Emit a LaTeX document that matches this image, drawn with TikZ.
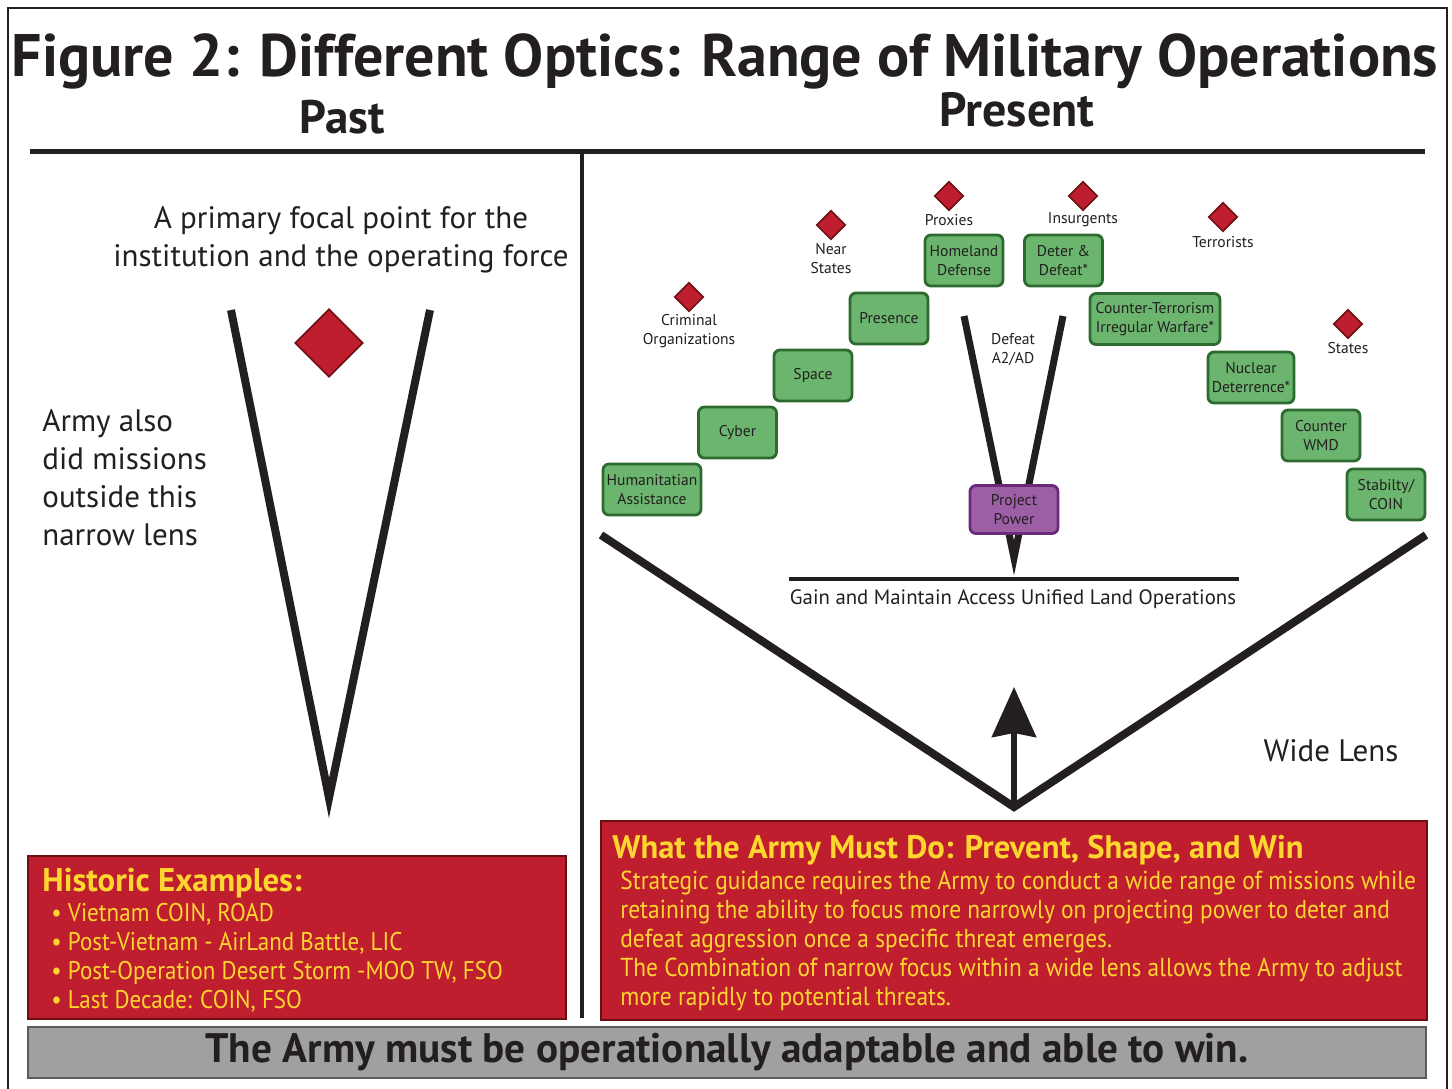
\documentclass[tikz,border=0pt]{standalone}
\usepackage{fontspec}
\setmainfont{PT Sans}
\newfontfamily\narrowfont[FakeStretch=0.9]{PT Sans}
\usetikzlibrary{arrows.meta,shapes.geometric}

\definecolor{armyred}{HTML}{BE1E2D}
\definecolor{armyredline}{HTML}{6D1016}
\definecolor{armygold}{HTML}{FFD530}
\definecolor{missionfill}{HTML}{6BB56E}
\definecolor{missionline}{HTML}{2C6A30}
\definecolor{powerfill}{HTML}{9C5FA6}
\definecolor{powerline}{HTML}{6A2A7A}
\definecolor{bargray}{HTML}{A0A0A0}
\definecolor{barline}{HTML}{5B5B5B}
\definecolor{ink}{HTML}{231F20}

\tikzset{
  mission/.style={rectangle, rounded corners=3pt, draw=missionline, fill=missionfill, line width=1.4pt,
    minimum width=39pt, minimum height=25.5pt, inner sep=1pt, align=center, text=ink,
    font=\fontsize{7.8}{9.5}\selectfont},
  power/.style={mission, draw=powerline, fill=powerfill, minimum width=44pt, minimum height=24pt},
  threat/.style={diamond, aspect=1, draw=armyredline, fill=armyred, line width=0.8pt, minimum size=14.5pt, inner sep=0pt},
  tag/.style={align=center, text=ink, inner sep=0pt, font=\fontsize{7.8}{9.5}\selectfont},
  lens/.style={draw=ink, line width=4pt, line join=miter},
  redbox/.style={rectangle, draw=armyredline, fill=armyred, line width=1pt, inner sep=0pt},
  gold/.style={text=armygold, align=left, inner sep=0pt}
}

\begin{document}
\begin{tikzpicture}[x=0.5pt, y=-0.5pt]
\fill[white] (0,0) rectangle (1452,1088);
\useasboundingbox (0,0) rectangle (1452,1088);
\draw[line width=1pt, ink] (8,1100) -- (8,8) -- (1447,8) -- (1447,1100);

\node (title) at (725,76) [anchor=base, text=ink, inner sep=0pt, font=\bfseries\fontsize{30}{30}\selectfont] {Figure 2: Different Optics: Range of Military Operations};
\node (past) at (342,133) [anchor=base, text=ink, inner sep=0pt, font=\bfseries\fontsize{23.5}{23.5}\selectfont] {Past};
\node (present) at (1017,126) [anchor=base, text=ink, inner sep=0pt, font=\bfseries\fontsize{24}{24}\selectfont] {Present};

\draw[line width=2.5pt, ink] (30,151) -- (1425,151);
\draw[line width=2pt, ink] (582,151) -- (582,1018);

\node (focus) at (341,240) [tag, font=\fontsize{15.5}{19}\selectfont] {A primary focal point for the\\institution and the operating force};
\node (outside) at (42,478) [tag, anchor=west, align=left, font=\fontsize{15.5}{19}\selectfont] {Army also\\did missions\\outside this\\narrow lens};
\draw[lens] (231,310) -- (329,798) -- (430,310);
\node (focal) at (329,343) [threat, minimum size=34pt] {};

\node (hist) at (297,937.5) [redbox, minimum width=269pt, minimum height=81.5pt] {};
\node (histhead) at (42,891) [gold, anchor=base west, font=\bfseries\fontsize{16.4}{16.4}\selectfont] {Historic Examples:};
\node (histlist) at (51,903) [gold, anchor=north west, font=\narrowfont\fontsize{12.8}{14.5}\selectfont] {\textbullet\ Vietnam COIN, ROAD\\\textbullet\ Post-Vietnam - AirLand Battle, LIC\\\textbullet\ Post-Operation Desert Storm -MOO TW, FSO\\\textbullet\ Last Decade: COIN, FSO};

\draw[lens] (601,535) -- (1014,807) -- (1426,535);
\coordinate (lensbase) at (1014,807);
\coordinate (lensaim) at (1014,687);
\draw[ink, line width=3pt, -{Stealth[length=25pt, width=22pt, inset=2pt]}] (lensbase) -- (lensaim);
\node (wide) at (1331,751) [tag, font=\fontsize{15.5}{19}\selectfont] {Wide Lens};

\draw[ink, line width=2pt] (789,579) -- (1239,579);
\node (ulo) at (1013,599) [tag, font=\fontsize{10.4}{12}\selectfont] {Gain and Maintain Access Unified Land Operations};
\draw[lens, line width=3.5pt] (964,316) -- (1014,558) -- (1063,316);
\node (a2ad) at (1013,350) [tag] {Defeat\\A2/AD};
\node (power) at (1014,509.5) [power] {Project\\Power};

\node (human) at (652,489.5) [mission, minimum width=49pt] {Humanitatian\\Assistance};
\node (cyber) at (737.5,432.5) [mission] {Cyber};
\node (space) at (813,375.5) [mission] {Space};
\node (presence) at (889,318.5) [mission] {Presence};
\node (homeland) at (964,260.5) [mission] {Homeland\\Defense};
\node (deter) at (1063.5,260.5) [mission] {Deter \&\\Defeat*};
\node (ct) at (1155,319) [mission, minimum width=65pt] {Counter-Terrorism\\Irregular Warfare*};
\node (nuclear) at (1251,377.5) [mission, minimum width=43pt] {Nuclear\\Deterrence*};
\node (cwmd) at (1321,435.5) [mission] {Counter\\WMD};
\node (coin) at (1386,494.5) [mission] {Stabilty/\\COIN};

\node (crim) at (689,297) [threat] {};
\node (crimtag) at (689,331) [tag] {Criminal\\Organizations};
\node (near) at (831,225) [threat] {};
\node (neartag) at (831,259) [tag] {Near\\States};
\node (proxy) at (949,196) [threat] {};
\node (proxytag) at (949,220) [tag] {Proxies};
\node (insurg) at (1083,196) [threat] {};
\node (insurgtag) at (1083,220) [tag] {Insurgents};
\node (terror) at (1223,217) [threat] {};
\node (terrortag) at (1223,242) [tag] {Terrorists};
\node (states) at (1348,324) [threat] {};
\node (statestag) at (1348,348) [tag] {States};

\node (must) at (1014,920.5) [redbox, minimum width=413pt, minimum height=99.5pt] {};
\node (musthead) at (612,858) [gold, anchor=base west, font=\bfseries\fontsize{16.3}{16.3}\selectfont] {What the Army Must Do: Prevent, Shape, and Win};
\node (mustbody) at (620,871) [gold, anchor=north west, font=\narrowfont\fontsize{13}{14.5}\selectfont] {Strategic guidance requires the Army to conduct a wide range of missions while\\retaining the ability to focus more narrowly on projecting power to deter and\\defeat aggression once a specific threat emerges.\\The Combination of narrow focus within a wide lens allows the Army to adjust\\more rapidly to potential threats.};

\node (win) at (727,1052.5) [rectangle, draw=barline, fill=bargray, line width=1.2pt, minimum width=699pt, minimum height=25.5pt, inner sep=0pt, text=ink, font=\bfseries\fontsize{20.6}{20.6}\selectfont] {The Army must be operationally adaptable and able to win.};
\end{tikzpicture}
\end{document}
